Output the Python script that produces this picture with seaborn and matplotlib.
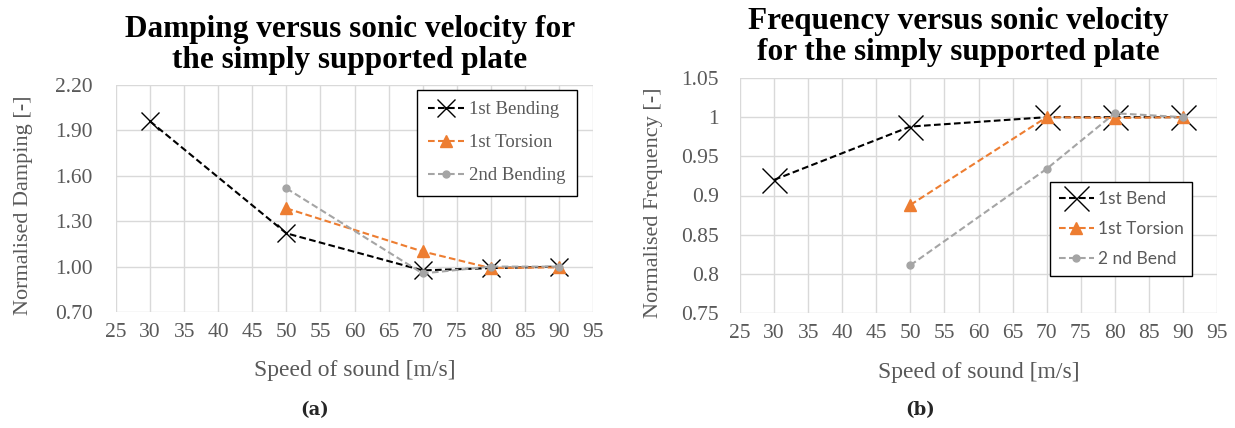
import matplotlib
matplotlib.use("Agg")
import matplotlib.pyplot as plt
import seaborn as sns

# ---------------- data ----------------
speed_a = [30, 50, 70, 80, 90]
bend1_damp = [1.96, 1.22, 0.975, 0.99, 1.00]
speed_tors = [50, 70, 80, 90]
tors1_damp = [1.385, 1.10, 0.99, 0.995]
bend2_damp = [1.517, 0.955, 1.00, 1.00]

bend1_freq = [0.92, 0.988, 1.0, 1.0, 1.0]
tors1_freq = [0.888, 1.0, 0.999, 1.0]
bend2_freq = [0.811, 0.934, 1.005, 1.0]

x_ticks = [25, 30, 35, 40, 45, 50, 55, 60, 65, 70, 75, 80, 85, 90, 95]
damp_ticks = [0.70, 1.00, 1.30, 1.60, 1.90, 2.20]
damp_labels = ["0.70", "1.00", "1.30", "1.60", "1.90", "2.20"]
freq_ticks = [0.75, 0.80, 0.85, 0.90, 0.95, 1.00, 1.05]
freq_labels = ["0.75", "0.8", "0.85", "0.9", "0.95", "1", "1.05"]

BLACK = "#000000"
ORANGE = "#ED7D31"
GRAY = "#A5A5A5"
TXT = "#595959"
GRID = "#D9D9D9"

sns.set_theme(style="white")
plt.rcParams["font.family"] = ["Liberation Serif", "DejaVu Serif"]

W, H = 1235, 428
fig = plt.figure(figsize=(W / 100, H / 100), dpi=100)


def px_axes(x0, x1, ytop, ybot):
    return fig.add_axes([x0 / W, 1 - ybot / H, (x1 - x0) / W, (ybot - ytop) / H])


ax1 = px_axes(116, 593, 85, 312)
ax2 = px_axes(740, 1217, 78, 313)


def series(ax, x, y, color, marker, ms, label, mew=1.0):
    sns.lineplot(x=x, y=y, ax=ax, color=color, marker=marker, markersize=ms,
                 linestyle=(0, (3.2, 1.6)), linewidth=1.5, label=label,
                 markeredgecolor=color, markerfacecolor=color,
                 markeredgewidth=mew)


def style(ax, yt, yl, ylim, ylabel, ylab_x, ypad):
    ax.set_xlim(25, 95)
    ax.set_ylim(*ylim)
    ax.set_xticks(x_ticks)
    ax.set_xticklabels([str(v) for v in x_ticks])
    ax.set_yticks(yt)
    ax.set_yticklabels(yl)
    ax.grid(True, color=GRID, linewidth=1.0)
    ax.set_axisbelow(True)
    for s in ax.spines.values():
        s.set_visible(False)
    ax.tick_params(axis="both", length=0, labelsize=15.5, labelcolor=TXT)
    ax.tick_params(axis="x", pad=8)
    ax.tick_params(axis="y", pad=ypad)
    ax.set_xlabel("Speed of sound [m/s]", fontsize=17, color=TXT)
    ax.set_ylabel(ylabel, fontsize=16, color=TXT)
    ax.yaxis.set_label_coords(ylab_x, 0.47)
    ax.xaxis.set_label_coords(0.5, -0.21)


# ---------- left: damping ----------
series(ax1, speed_a, bend1_damp, BLACK, "x", 13, "1st Bending")
series(ax1, speed_tors, tors1_damp, ORANGE, "^", 8, "1st Torsion")
series(ax1, speed_tors, bend2_damp, GRAY, "o", 5, "2nd Bending")
style(ax1, damp_ticks, damp_labels, (0.70, 2.20), "Normalised Damping [-]",
      -0.174, 17)
leg1 = ax1.legend(loc="upper right", bbox_to_anchor=(0.966, 0.978), frameon=True,
                  fancybox=False, edgecolor="#000000", framealpha=1,
                  prop={"family": "Liberation Serif", "size": 13.5},
                  labelcolor=TXT, handlelength=1.9, handletextpad=0.27,
                  labelspacing=0.85, borderpad=0.6, borderaxespad=0)
leg1.get_frame().set_linewidth(1.0)

# ---------- right: frequency ----------
series(ax2, speed_a, bend1_freq, BLACK, "x", 18, "1st Bend")
series(ax2, speed_tors, tors1_freq, ORANGE, "^", 8, "1st Torsion")
series(ax2, speed_tors, bend2_freq, GRAY, "o", 5, "2 nd Bend")
style(ax2, freq_ticks, freq_labels, (0.75, 1.05), "Normalised Frequency [-]",
      -0.161, 15)
leg2 = ax2.legend(loc="upper right", bbox_to_anchor=(0.948, 0.556), frameon=True,
                  fancybox=False, edgecolor="#000000", framealpha=1,
                  prop={"family": "Lato", "size": 12.5},
                  labelcolor=TXT, handlelength=2.0, handletextpad=0.23,
                  labelspacing=0.82, borderpad=0.5, borderaxespad=0)
leg2.get_frame().set_linewidth(1.0)

# ---------- titles & captions ----------
fig.text(350 / W, 1 - 45 / H,
         "Damping versus sonic velocity for\nthe simply supported plate",
         ha="center", va="center", fontsize=22.5, fontweight="bold",
         color="black", linespacing=1.12)
fig.text(958 / W, 1 - 37 / H,
         "Frequency versus sonic velocity\nfor the simply supported plate",
         ha="center", va="center", fontsize=22.5, fontweight="bold",
         color="black", linespacing=1.12)
fig.text(315 / W, 1 - 410 / H, "(a)", ha="center", va="center",
         fontsize=13, fontweight="bold", family="DejaVu Serif")
fig.text(920 / W, 1 - 410 / H, "(b)", ha="center", va="center",
         fontsize=13, fontweight="bold", family="DejaVu Serif")

fig.savefig("out.png", dpi=100)
